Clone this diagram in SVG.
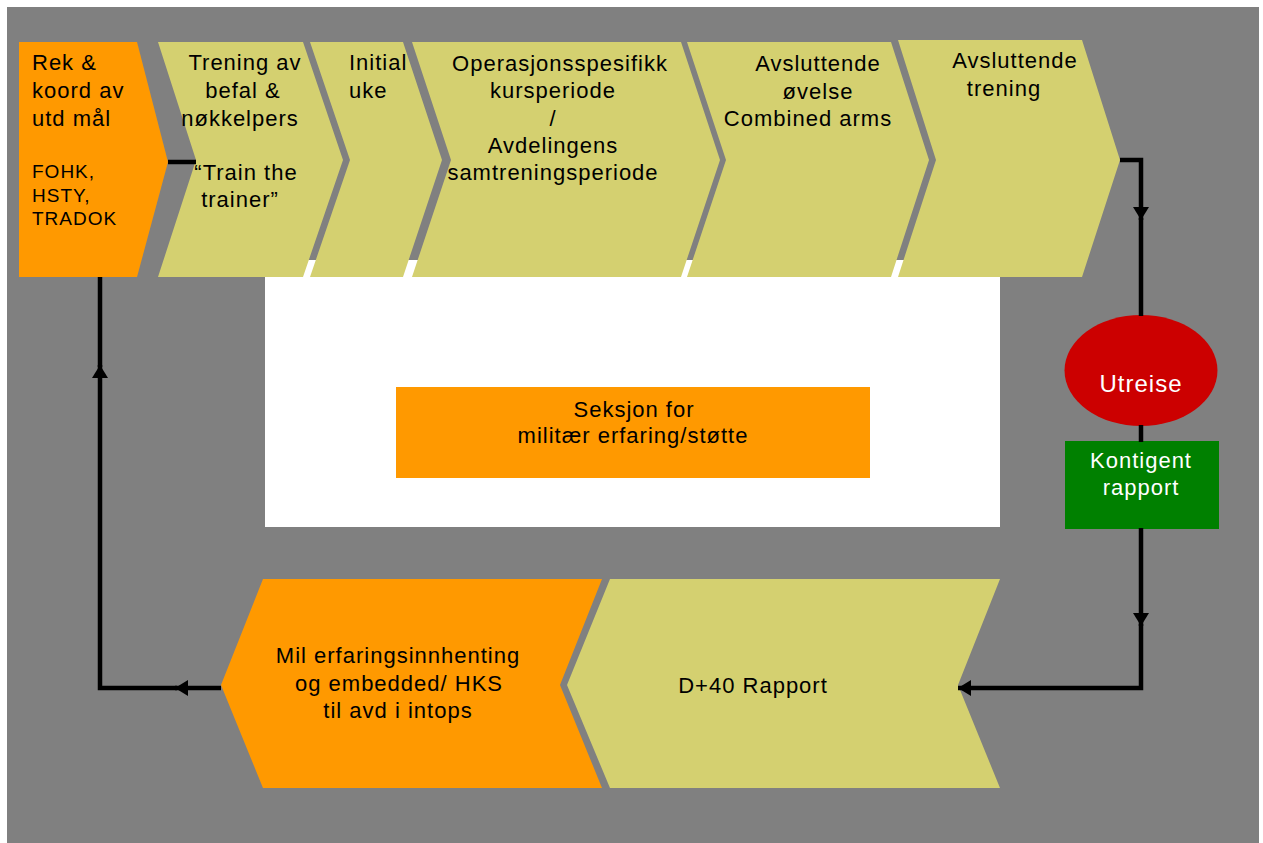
<svg xmlns="http://www.w3.org/2000/svg" width="1263" height="843" viewBox="0 0 1263 843">
<defs>
<style>
.t{font-family:"Liberation Sans",Arial,sans-serif;font-size:22px;letter-spacing:1px;fill:#000}
.s{font-size:19px}
.c{text-anchor:middle}
.w{fill:#fff}
.yg{fill:#D4D070}
.or{fill:#FF9900}
.ln{fill:none;stroke:#000;stroke-width:4.5;stroke-linejoin:miter}
</style>
<marker id="arr" viewBox="0 0 13 16" refX="13" refY="8" markerWidth="13" markerHeight="16" markerUnits="userSpaceOnUse" orient="auto">
<path d="M0,0 L13,8 L0,16 z" fill="#000"/>
</marker>
</defs>
<rect x="0" y="0" width="1263" height="843" fill="#fff"/>
<rect x="7" y="7" width="1252" height="836" fill="#808080"/>
<rect x="265" y="260" width="735" height="267" fill="#fff"/>

<g id="rek">
<polygon class="or" points="19,42 137,42 168,162 137,277 19,277"/>
<text class="t" x="32" y="70">Rek &amp;</text>
<text class="t" x="32" y="98">koord av</text>
<text class="t" x="32" y="126">utd mål</text>
<text class="t s" x="32" y="178">FOHK,</text>
<text class="t s" x="32" y="202">HSTY,</text>
<text class="t s" x="32" y="225">TRADOK</text>
</g>
<g id="trening">
<polygon class="yg" points="158,42 303,42 343,160 303,277 158,277 196,160"/>
<text class="t c" x="245" y="70">Trening av</text>
<text class="t c" x="243" y="98">befal &amp;</text>
<text class="t c" x="240" y="126">nøkkelpers</text>
<text class="t c" x="246" y="180">“Train the</text>
<text class="t c" x="240" y="207">trainer”</text>
</g>
<g id="initial">
<polygon class="yg" points="310,42 403,42 442,160 403,277 310,277 350,160"/>
<text class="t" x="349" y="70">Initial</text>
<text class="t" x="349" y="98">uke</text>
</g>
<g id="operasjon">
<polygon class="yg" points="412,42 681,42 720,160 681,277 412,277 451,160"/>
<text class="t c" x="560" y="71">Operasjonsspesifikk</text>
<text class="t c" x="553" y="98">kursperiode</text>
<text class="t c" x="553" y="126">/</text>
<text class="t c" x="553" y="153">Avdelingens</text>
<text class="t c" x="553" y="180">samtreningsperiode</text>
</g>
<g id="ovelse">
<polygon class="yg" points="687,42 891,42 929,160 891,277 687,277 726,160"/>
<text class="t c" x="818" y="71">Avsluttende</text>
<text class="t c" x="818" y="99">øvelse</text>
<text class="t c" x="808" y="126">Combined arms</text>
</g>
<g id="avsluttende-trening">
<polygon class="yg" points="898,40 1082,40 1120,160 1082,277 898,277 936,160"/>
<text class="t c" x="1015" y="68">Avsluttende</text>
<text class="t c" x="1004" y="96">trening</text>
</g>
<g id="seksjon">
<rect class="or" x="396" y="387" width="474" height="91"/>
<text class="t c" x="634" y="417">Seksjon for</text>
<text class="t c" x="633" y="443">militær erfaring/støtte</text>
</g>
<g id="utreise">
<ellipse cx="1141" cy="370.5" rx="76.5" ry="55.5" fill="#CC0000"/>
<text class="t c w" x="1141" y="392" style="font-size:24px">Utreise</text>
</g>
<g id="kontigent">
<rect x="1065" y="441" width="154" height="88" fill="#008000"/>
<text class="t c w" x="1141" y="468">Kontigent</text>
<text class="t c w" x="1141" y="495">rapport</text>
</g>
<g id="d40">
<polygon class="yg" points="610,579 1000,579 958,685 1000,788 610,788 567,685"/>
<text class="t c" x="753" y="693">D+40 Rapport</text>
</g>
<g id="mil">
<polygon class="or" points="263,579 602,579 560,685 602,788 263,788 221,685"/>
<text class="t c" x="398" y="663">Mil erfaringsinnhenting</text>
<text class="t c" x="399" y="691">og embedded/ HKS</text>
<text class="t c" x="398" y="718">til avd i intops</text>
</g>

<g id="connectors">
<line class="ln" x1="168" y1="162" x2="196" y2="162"/>
<path class="ln" d="M1120,160 H1141 V220" marker-end="url(#arr)"/>
<path class="ln" d="M1141,218 V316"/>
<path class="ln" d="M1141,425 V442"/>
<path class="ln" d="M1141,528 V626" marker-end="url(#arr)"/>
<path class="ln" d="M1141,624 V688 H958" marker-end="url(#arr)"/>
<path class="ln" d="M221,688 H175" marker-end="url(#arr)"/>
<path class="ln" d="M177,688 H100 V365" marker-end="url(#arr)"/>
<path class="ln" d="M100,367 V277"/>
</g>
</svg>
